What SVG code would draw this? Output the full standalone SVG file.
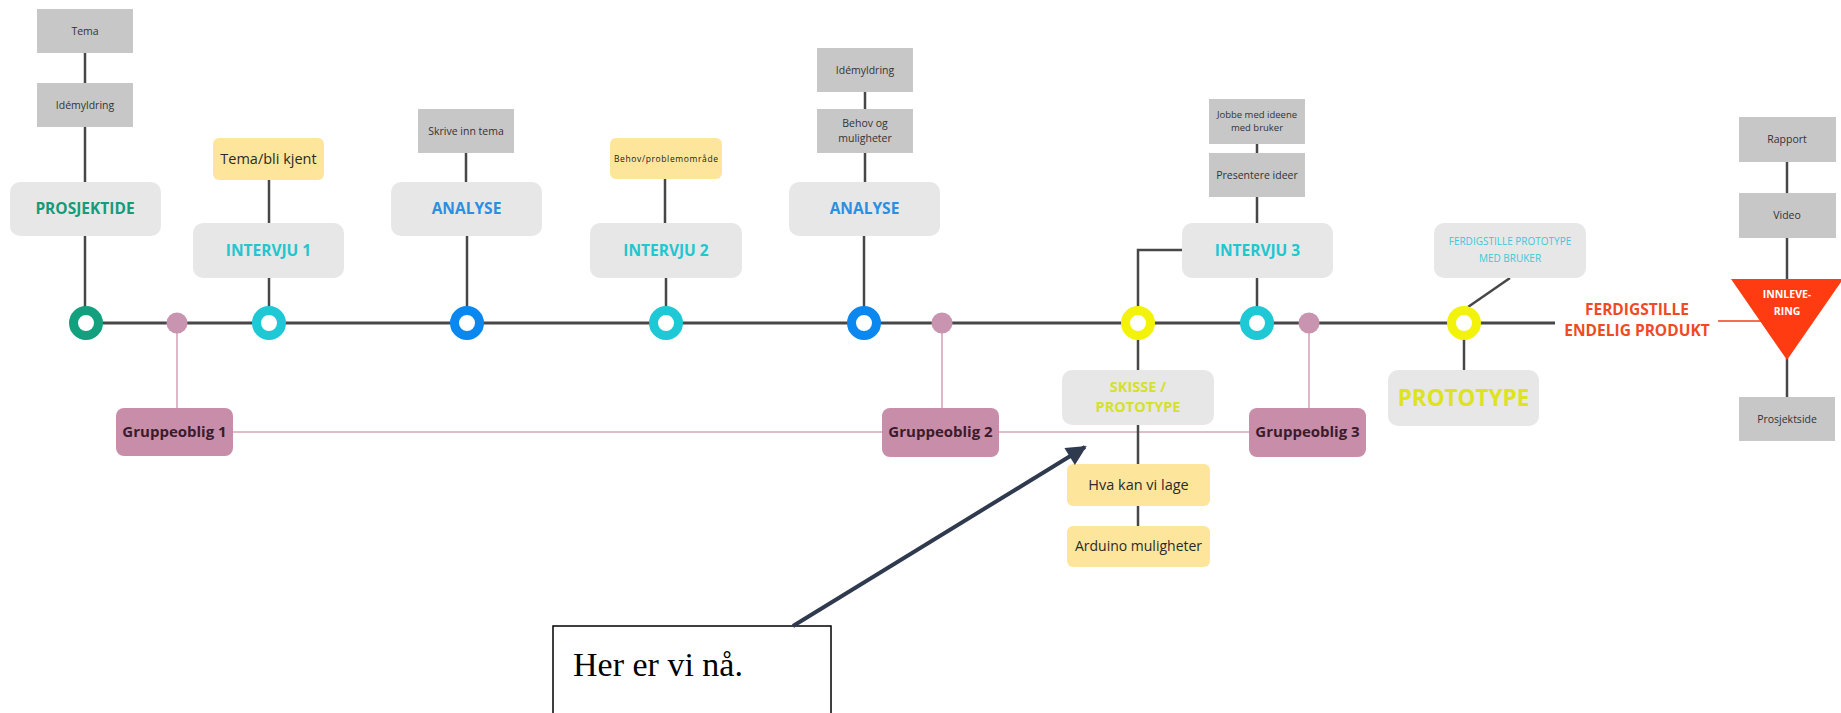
<svg xmlns="http://www.w3.org/2000/svg" width="1841" height="713" viewBox="0 0 1841 713">
<defs>
<style>
.gray{fill:#c7c7c7}
.lt{fill:#e7e7e7}
.yel{fill:#fde69b}
.pk{fill:#c88ea9}
.gt{font-family:"Open Sans","Liberation Sans",sans-serif;font-size:10.5px;fill:#333;text-anchor:middle}
.yt{font-family:"Open Sans","Liberation Sans",sans-serif;font-size:14.5px;fill:#2a2a2a;text-anchor:middle}
.ht{font-family:"Open Sans","Liberation Sans",sans-serif;font-size:15.5px;font-weight:bold;text-anchor:middle}
.pt{font-family:"Open Sans","Liberation Sans",sans-serif;font-size:15px;font-weight:bold;fill:#3b1b2c;text-anchor:middle}
.ln{stroke:#474747;stroke-width:2.5;fill:none}
.pl{stroke:#d3a6b9;stroke-width:1.6;fill:none}
.ring{fill:#fff;stroke-width:9}
.dot{fill:#c994b0}
</style>
<marker id="ah" viewBox="0 0 10 10" refX="9" refY="5" markerWidth="7" markerHeight="5" markerUnits="strokeWidth" orient="auto">
<path d="M0,0 L10,5 L0,10 z" fill="#2f3a4f"/>
</marker>
</defs>
<rect width="1841" height="713" fill="#fff"/>

<g id="connectors">
<line class="pl" x1="177" y1="323" x2="177" y2="408"/>
<line class="pl" x1="942" y1="323" x2="942" y2="408"/>
<line class="pl" x1="1309" y1="323" x2="1309" y2="408"/>
<line class="pl" x1="233" y1="432" x2="882" y2="432"/>
<line class="pl" x1="999" y1="432" x2="1249" y2="432"/>
<line class="ln" x1="86" y1="323" x2="1555" y2="323" style="stroke-width:3"/>
<line class="ln" x1="85" y1="53" x2="85" y2="83"/>
<line class="ln" x1="85" y1="127" x2="85" y2="182"/>
<line class="ln" x1="85" y1="236" x2="85" y2="320"/>
<line class="ln" x1="269" y1="180" x2="269" y2="223"/>
<line class="ln" x1="269" y1="278" x2="269" y2="320"/>
<line class="ln" x1="466" y1="153" x2="466" y2="182"/>
<line class="ln" x1="467" y1="236" x2="467" y2="320"/>
<line class="ln" x1="665" y1="179" x2="665" y2="223"/>
<line class="ln" x1="666" y1="278" x2="666" y2="320"/>
<line class="ln" x1="865" y1="92" x2="865" y2="109"/>
<line class="ln" x1="865" y1="153" x2="865" y2="182"/>
<line class="ln" x1="864" y1="236" x2="864" y2="320"/>
<line class="ln" x1="1257" y1="144" x2="1257" y2="153"/>
<line class="ln" x1="1257" y1="197" x2="1257" y2="223"/>
<line class="ln" x1="1257" y1="278" x2="1257" y2="320"/>
<path class="ln" d="M1138,323 V250 H1182"/>
<line class="ln" x1="1138" y1="323" x2="1138" y2="370"/>
<line class="ln" x1="1138" y1="425" x2="1138" y2="464"/>
<line class="ln" x1="1138" y1="506" x2="1138" y2="526"/>
<line class="ln" x1="1468" y1="307" x2="1510" y2="278"/>
<line class="ln" x1="1464" y1="323" x2="1464" y2="370"/>
<line class="ln" x1="1787" y1="162" x2="1787" y2="193"/>
<line class="ln" x1="1787" y1="238" x2="1787" y2="280"/>
<line class="ln" x1="1787" y1="358" x2="1787" y2="397"/>
<line x1="1718" y1="321" x2="1762" y2="321" stroke="#f0704f" stroke-width="2"/>
</g>

<g id="tema"><rect class="gray" x="37" y="9" width="96" height="44"/><text class="gt" x="85" y="35">Tema</text></g>
<g id="idemyldring1"><rect class="gray" x="37" y="83" width="96" height="44"/><text class="gt" x="85" y="109">Idémyldring</text></g>
<g id="prosjektide"><rect class="lt" x="10" y="182" width="151" height="54" rx="10"/><text class="ht" x="85" y="214" fill="#149b7a">PROSJEKTIDE</text></g>
<g id="c1"><circle class="ring" cx="86" cy="323" r="12.5" stroke="#12a07e"/></g>
<g id="dot1"><circle class="dot" cx="177" cy="323" r="10.5"/></g>

<g id="temablikjent"><rect class="yel" x="213" y="138" width="111" height="42" rx="6"/><text class="yt" x="268.5" y="164">Tema/bli kjent</text></g>
<g id="intervju1"><rect class="lt" x="193" y="223" width="151" height="55" rx="10"/><text class="ht" x="268.5" y="256" fill="#22c5d0">INTERVJU 1</text></g>
<g id="c2"><circle class="ring" cx="269" cy="323" r="12.5" stroke="#1ec8d4"/></g>

<g id="skriveinntema"><rect class="gray" x="418" y="109" width="96" height="44"/><text class="gt" x="466" y="135">Skrive inn tema</text></g>
<g id="analyse1"><rect class="lt" x="391" y="182" width="151" height="54" rx="10"/><text class="ht" x="466.5" y="214" fill="#2a8fe2">ANALYSE</text></g>
<g id="c3"><circle class="ring" cx="467" cy="323" r="12.5" stroke="#0a88f0"/></g>

<g id="behovproblem"><rect class="yel" x="610" y="138" width="112" height="41" rx="6"/><text class="gt" x="666" y="162" textLength="104" style="font-size:8.5px;fill:#222">Behov/problemområde</text></g>
<g id="intervju2"><rect class="lt" x="590" y="223" width="152" height="55" rx="10"/><text class="ht" x="666" y="256" fill="#22c5d0">INTERVJU 2</text></g>
<g id="c4"><circle class="ring" cx="666" cy="323" r="12.5" stroke="#1ec8d4"/></g>

<g id="idemyldring2"><rect class="gray" x="817" y="48" width="96" height="44"/><text class="gt" x="865" y="74">Idémyldring</text></g>
<g id="behovmuligheter"><rect class="gray" x="817" y="109" width="96" height="44"/><text class="gt" x="865" y="127">Behov og</text><text class="gt" x="865" y="142">muligheter</text></g>
<g id="analyse2"><rect class="lt" x="789" y="182" width="151" height="54" rx="10"/><text class="ht" x="864.5" y="214" fill="#2a8fe2">ANALYSE</text></g>
<g id="c5"><circle class="ring" cx="864" cy="323" r="12.5" stroke="#0a88f0"/></g>
<g id="dot2"><circle class="dot" cx="942" cy="323" r="10.5"/></g>
<g id="c6"><circle class="ring" cx="1138" cy="323" r="12.5" stroke="#f2f20a"/></g>

<g id="jobbe"><rect class="gray" x="1209" y="99" width="96" height="45"/><text class="gt" x="1257" y="118" style="font-size:9.5px">Jobbe med ideene</text><text class="gt" x="1257" y="131" style="font-size:9.5px">med bruker</text></g>
<g id="presentere"><rect class="gray" x="1209" y="153" width="96" height="44"/><text class="gt" x="1257" y="179">Presentere ideer</text></g>
<g id="intervju3"><rect class="lt" x="1182" y="223" width="151" height="55" rx="10"/><text class="ht" x="1257.5" y="256" fill="#22c5d0">INTERVJU 3</text></g>
<g id="c7"><circle class="ring" cx="1257" cy="323" r="12.5" stroke="#1ec8d4"/></g>
<g id="dot3"><circle class="dot" cx="1309" cy="323" r="10.5"/></g>

<g id="ferdigproto"><rect class="lt" x="1434" y="223" width="152" height="55" rx="10"/><text class="gt" x="1510" y="245" style="font-size:10px;fill:#3cc8d6">FERDIGSTILLE PROTOTYPE</text><text class="gt" x="1510" y="262" style="font-size:10px;fill:#3cc8d6">MED BRUKER</text></g>
<g id="c8"><circle class="ring" cx="1464" cy="323" r="12.5" stroke="#f2f20a"/></g>
<g id="ferdigendelig"><text class="ht" x="1637" y="315" fill="#f04a25">FERDIGSTILLE</text><text class="ht" x="1637" y="336" fill="#f04a25">ENDELIG PRODUKT</text></g>
<g id="innlevering"><polygon points="1731,279 1843,279 1787,360" fill="#ff3b12"/><text class="ht" x="1787" y="298" style="font-size:10.5px" fill="#fff">INNLEVE-</text><text class="ht" x="1787" y="315" style="font-size:10.5px" fill="#fff">RING</text></g>
<g id="rapport"><rect class="gray" x="1739" y="117" width="97" height="45"/><text class="gt" x="1787" y="143">Rapport</text></g>
<g id="video"><rect class="gray" x="1739" y="193" width="97" height="45"/><text class="gt" x="1787" y="219">Video</text></g>
<g id="prosjektside"><rect class="gray" x="1739" y="397" width="96" height="44"/><text class="gt" x="1787" y="423">Prosjektside</text></g>

<g id="gruppe1"><rect class="pk" x="116" y="408" width="117" height="48" rx="8"/><text class="pt" x="174.5" y="437">Gruppeoblig 1</text></g>
<g id="gruppe2"><rect class="pk" x="882" y="408" width="117" height="49" rx="8"/><text class="pt" x="940.5" y="437">Gruppeoblig 2</text></g>
<g id="gruppe3"><rect class="pk" x="1249" y="408" width="117" height="49" rx="8"/><text class="pt" x="1307.5" y="437">Gruppeoblig 3</text></g>

<g id="skisse"><rect class="lt" x="1062" y="370" width="152" height="55" rx="10"/><text class="ht" x="1138" y="392" style="font-size:14.5px" fill="#d6e02c">SKISSE /</text><text class="ht" x="1138" y="412" style="font-size:14.5px" fill="#d6e02c">PROTOTYPE</text></g>
<g id="prototype"><rect class="lt" x="1388" y="370" width="151" height="56" rx="10"/><text class="ht" x="1463.5" y="406" style="font-size:22.5px" fill="#dde31e">PROTOTYPE</text></g>
<g id="hvakan"><rect class="yel" x="1067" y="464" width="143" height="42" rx="6"/><text class="yt" x="1138.5" y="490">Hva kan vi lage</text></g>
<g id="arduino"><rect class="yel" x="1067" y="526" width="143" height="41" rx="6"/><text class="yt" x="1138.5" y="551" style="font-size:14px">Arduino muligheter</text></g>

<g id="callout">
<rect x="553" y="626" width="278" height="100" fill="#fff" stroke="#000" stroke-width="1.5"/>
<text x="573" y="676" font-family="'Liberation Serif','DejaVu Serif',serif" font-size="34" fill="#000">Her er vi nå.</text>
</g>
<g id="pointer">
<line x1="793" y1="626" x2="1085" y2="447" stroke="#2f3a4f" stroke-width="4" marker-end="url(#ah)"/>
</g>
</svg>
